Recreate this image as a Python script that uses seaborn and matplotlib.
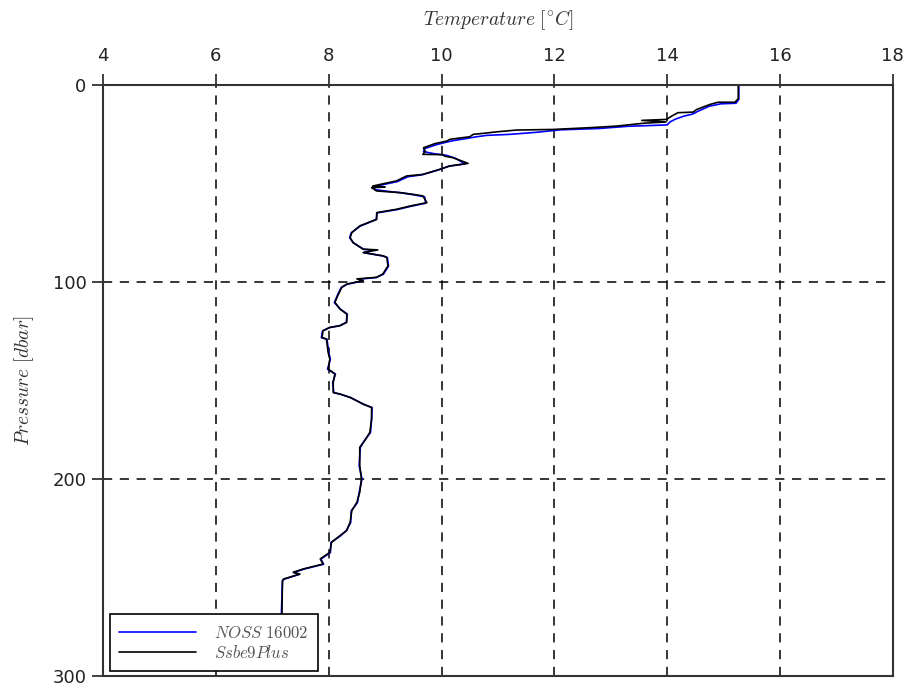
import matplotlib
matplotlib.use("Agg")
import matplotlib.pyplot as plt
import pandas as pd
import seaborn as sns

# CTD cast: temperature profiles from two sensors
instruments = [r"$NOSS\ 16002$", r"$Ssbe9Plus$"]

noss_pressure = [0.5, 7.5, 9.5, 9.8, 11.0, 13.5, 15.0, 16.0, 17.5, 19.0, 20.5, 21.2,
                 22.3, 23.0, 24.2, 25.3, 25.8, 26.6, 27.6, 28.5, 29.5, 30.6, 32.5, 34.0,
                 35.0, 36.0, 37.5, 40.2, 41.5, 43.3, 45.8, 46.8, 49.2, 51.8, 53.3, 54.2,
                 55.0, 56.0, 57.0, 60.2, 61.8, 63.4, 65.1, 68.5, 71.8, 75.2, 77.7, 80.3,
                 83.6, 84.0, 85.3, 87.0, 87.8, 92.1, 96.2, 97.9, 98.7, 99.6, 101.3, 103.0,
                 107.2, 110.6, 114.0, 116.5, 120.7, 122.4, 123.3, 125.0, 128.4, 129.2,
                 136.0, 139.3, 144.4, 146.9, 151.2, 156.3, 157.1, 158.8, 162.2, 163.9,
                 169.7, 176.5, 180.7, 184.1, 193.4, 200.1, 206.9, 212.0, 216.2, 222.1,
                 226.3, 228.9, 232.3, 237.4, 240.7, 243.3, 245.8, 247.5, 248.4, 250.9,
                 251.8, 269.6, 292.0]
noss_temp = [15.27, 15.27, 15.22, 14.95, 14.75, 14.55, 14.45, 14.30, 14.15, 14.05, 14.00, 13.30,
             12.80, 12.10, 11.70, 11.20, 10.80, 10.60, 10.40, 10.20, 10.05, 9.90, 9.70, 9.68,
             9.85, 10.10, 10.25, 10.42, 10.12, 9.95, 9.65, 9.40, 9.22, 8.80, 8.82, 9.05,
             9.30, 9.52, 9.70, 9.72, 9.45, 9.22, 8.86, 8.84, 8.56, 8.40, 8.37, 8.44,
             8.62, 8.80, 8.62, 8.97, 9.04, 9.06, 8.97, 8.84, 8.55, 8.60, 8.33, 8.22,
             8.15, 8.10, 8.21, 8.33, 8.31, 8.19, 8.01, 7.89, 7.87, 7.97,
             8.00, 8.03, 7.98, 8.12, 8.07, 8.09, 8.21, 8.39, 8.62, 8.77,
             8.76, 8.74, 8.63, 8.56, 8.54, 8.59, 8.54, 8.51, 8.40, 8.39,
             8.31, 8.21, 8.04, 8.03, 7.86, 7.91, 7.56, 7.38, 7.48, 7.21,
             7.18, 7.16, 7.16]

sbe_pressure = [0.5, 7.2, 9.0, 9.0, 10.1, 12.7, 14.0, 14.3, 16.0, 17.7, 18.2, 19.0,
                19.6, 21.1, 21.9, 22.8, 23.1, 24.0, 24.8, 25.3, 26.5, 27.8, 28.7, 30.0,
                32.1, 33.8, 35.4, 35.6, 36.3, 37.1, 40.0, 41.3, 43.0, 45.6, 46.4, 48.9,
                51.5, 52.0, 52.3, 54.0, 54.8, 55.7, 56.5, 59.9, 61.6, 63.3, 65.0, 68.4,
                71.7, 75.1, 77.6, 80.2, 83.5, 83.9, 85.2, 86.9, 87.7, 92.0, 96.1, 97.8,
                98.6, 99.5, 101.2, 102.9, 107.1, 110.5, 113.9, 116.4, 120.6, 122.3, 123.2,
                124.9, 128.3, 129.1, 135.9, 139.2, 144.3, 146.8, 151.1, 156.2, 157.0,
                158.7, 162.1, 163.8, 169.6, 176.4, 180.6, 184.0, 193.3, 200.0, 206.8,
                211.9, 216.1, 222.0, 226.2, 228.8, 232.2, 237.3, 240.6, 243.2, 245.7,
                247.4, 248.3, 250.8, 251.7, 269.5, 292.0]
sbe_temp = [15.26, 15.26, 15.20, 14.90, 14.76, 14.52, 14.46, 14.19, 14.08, 13.99, 13.55, 13.98,
            13.60, 13.10, 12.63, 11.97, 11.33, 10.98, 10.73, 10.56, 10.50, 10.15, 10.09, 9.88,
            9.68, 9.71, 9.67, 10.03, 10.05, 10.20, 10.47, 10.15, 9.97, 9.67, 9.38, 9.20,
            8.78, 9.00, 8.76, 8.85, 9.26, 9.49, 9.67, 9.74, 9.45, 9.20, 8.85, 8.85,
            8.55, 8.41, 8.38, 8.43, 8.61, 8.87, 8.61, 8.96, 9.03, 9.05, 8.96, 8.85,
            8.50, 8.61, 8.32, 8.23, 8.16, 8.11, 8.20, 8.32, 8.32, 8.20, 8.02,
            7.90, 7.88, 7.96, 7.99, 8.02, 7.99, 8.11, 8.08, 8.08, 8.20,
            8.38, 8.61, 8.76, 8.76, 8.73, 8.64, 8.55, 8.55, 8.58, 8.55,
            8.50, 8.41, 8.38, 8.32, 8.20, 8.05, 8.02, 7.85, 7.90, 7.55,
            7.37, 7.49, 7.20, 7.18, 7.17, 7.17]

x_ticks = [4, 6, 8, 10, 12, 14, 16, 18]
y_ticks = [0, 100, 200, 300]

profiles = pd.concat([
    pd.DataFrame({"temperature": noss_temp, "pressure": noss_pressure,
                  "instrument": instruments[0]}),
    pd.DataFrame({"temperature": sbe_temp, "pressure": sbe_pressure,
                  "instrument": instruments[1]}),
], ignore_index=True)

sns.set_theme(style="white")
plt.rcParams["font.family"] = ["DejaVu Sans"]
plt.rcParams["mathtext.fontset"] = "cm"

fig = plt.figure(figsize=(9.12, 6.91), dpi=100)
ax = fig.add_axes([0.113, 0.0217, 0.866, 0.856])

sns.lineplot(data=profiles, x="temperature", y="pressure", hue="instrument",
             palette=["#0000ff", "#000000"], sort=False, estimator=None,
             linewidth=1.2, ax=ax)

ax.set_xlim(4, 18)
ax.set_ylim(300, 0)
ax.set_xticks(x_ticks)
ax.set_yticks(y_ticks)
ax.xaxis.tick_top()
ax.xaxis.set_label_position("top")

ax.grid(True, color="black", linestyle=(0, (6, 5)), linewidth=1.1)
for s in ax.spines.values():
    s.set_color("#333333")
    s.set_linewidth(1.5)

ax.tick_params(axis="x", which="both", top=True, bottom=False, direction="out",
               length=8, width=1.3, color="#333333", labelsize=13, pad=6,
               labelcolor="#222222")
ax.tick_params(axis="y", which="both", left=True, right=False, direction="out",
               length=8, width=1.3, color="#333333", labelsize=13, pad=4,
               labelcolor="#222222")

ax.set_xlabel(r"$Temperature\ [^{\circ}C]$", fontsize=14, labelpad=16, color="#333333")
ax.set_ylabel(r"$Pressure\ [dbar]$", fontsize=14, labelpad=12, color="#333333")

leg = ax.legend(loc="lower left", bbox_to_anchor=(0.009, 0.008), fancybox=False,
                edgecolor="black", framealpha=1, fontsize=12, handlelength=4.6,
                handletextpad=1.1, borderpad=0.55, labelspacing=0.15,
                borderaxespad=0.0, title=None)
leg.get_frame().set_linewidth(1.2)
for t in leg.get_texts():
    t.set_color("#555555")

fig.savefig("out.png", dpi=100)
